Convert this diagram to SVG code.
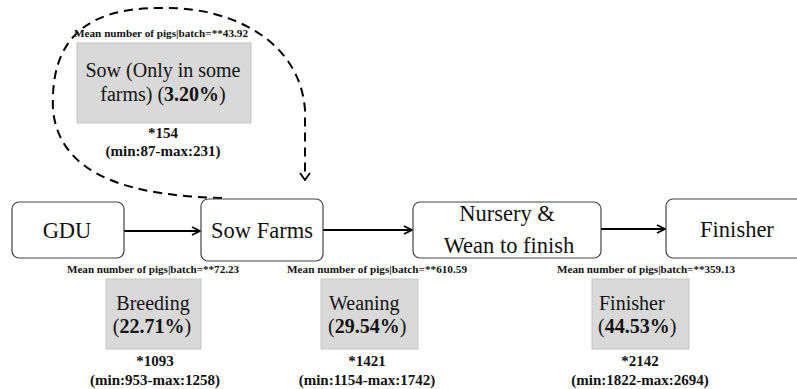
<svg xmlns="http://www.w3.org/2000/svg" width="797" height="389" viewBox="0 0 797 389" font-family="'Liberation Serif', 'Times New Roman', 'DejaVu Serif', serif">
<defs>
<style>
text{font-family:'Liberation Serif','Times New Roman','DejaVu Serif',serif;fill:#111}
.big{font-size:22.5px;text-anchor:middle}
.gray{font-size:20px}
.mean{font-size:11px;font-weight:bold;text-anchor:middle}
.cnt{font-size:15px;font-weight:bold;text-anchor:middle}
.box{fill:#fff;stroke:#444;stroke-width:1.2}
.gbox{fill:#d9d9d9;stroke:#c6c6c6;stroke-width:1}
.conn{fill:none;stroke:#000;stroke-width:2}
.dash{fill:none;stroke:#000;stroke-width:2;stroke-dasharray:9 6}
</style>
<marker id="arr" viewBox="0 0 10 10" refX="9" refY="5" markerWidth="10" markerHeight="10" markerUnits="userSpaceOnUse" orient="auto">
<path d="M1,1 L9,5 L1,9" fill="none" stroke="#000" stroke-width="1.8"/>
</marker>
</defs>
<rect width="797" height="389" fill="#fff"/>

<g id="connectors">
<line class="conn" x1="124" y1="231" x2="200" y2="231" marker-end="url(#arr)"/>
<line class="conn" x1="323" y1="230" x2="412" y2="230" marker-end="url(#arr)"/>
<line class="conn" x1="601" y1="229" x2="665" y2="229" marker-end="url(#arr)"/>
<path class="dash" d="M222,198 C140,196 60,180 53,110 C50,40 85,8 160,8 C230,6 300,40 305,110 L305,172"/>
<path d="M300,173 L305,180 L310,173" fill="none" stroke="#000" stroke-width="1.8"/>
</g>

<g id="sow">
<text class="mean" x="161" y="37" textLength="174" lengthAdjust="spacingAndGlyphs">Mean number of pigs|batch=**43.92</text>
<rect class="gbox" x="77" y="43" width="174" height="80"/>
<text class="gray" x="163" y="77" text-anchor="middle">Sow (Only in some</text>
<text class="gray" x="163" y="101" text-anchor="middle">farms) (<tspan font-weight="bold">3.20%</tspan>)</text>
<text class="cnt" x="163" y="138">*154</text>
<text class="cnt" x="163" y="156">(min:87-max:231)</text>
</g>

<g id="gdu">
<rect class="box" x="12" y="202" width="112" height="56" rx="7"/>
<text class="big" x="67" y="238">GDU</text>
</g>

<g id="sowfarms">
<rect class="box" x="201" y="199" width="122" height="62" rx="7"/>
<text class="big" x="262" y="238">Sow Farms</text>
</g>

<g id="nursery">
<rect class="box" x="413" y="202" width="188" height="56" rx="7"/>
<text class="big" x="507" y="221">Nursery &amp;</text>
<text class="big" x="509" y="253">Wean to finish</text>
</g>

<g id="finisher">
<rect class="box" x="666" y="199" width="140" height="59" rx="7"/>
<text class="big" x="737" y="237">Finisher</text>
</g>

<g id="breeding">
<text class="mean" x="153" y="273" textLength="172" lengthAdjust="spacingAndGlyphs">Mean number of pigs|batch=**72.23</text>
<rect class="gbox" x="106" y="279" width="95" height="70"/>
<text class="gray" x="153" y="310" text-anchor="middle">Breeding</text>
<text class="gray" x="152" y="333" text-anchor="middle">(<tspan font-weight="bold">22.71%</tspan>)</text>
<text class="cnt" x="155" y="366">*1093</text>
<text class="cnt" x="155" y="385">(min:953-max:1258)</text>
</g>

<g id="weaning">
<text class="mean" x="377" y="273" textLength="180" lengthAdjust="spacingAndGlyphs">Mean number of pigs|batch=**610.59</text>
<rect class="gbox" x="321" y="279" width="97" height="70"/>
<text class="gray" x="329" y="310">Weaning</text>
<text class="gray" x="328" y="333">(<tspan font-weight="bold">29.54%</tspan>)</text>
<text class="cnt" x="367" y="366">*1421</text>
<text class="cnt" x="367" y="385">(min:1154-max:1742)</text>
</g>

<g id="finisher-stage">
<text class="mean" x="646" y="273" textLength="178" lengthAdjust="spacingAndGlyphs">Mean number of pigs|batch=**359.13</text>
<rect class="gbox" x="592" y="279" width="97" height="70"/>
<text class="gray" x="599" y="310">Finisher</text>
<text class="gray" x="598" y="333">(<tspan font-weight="bold">44.53%</tspan>)</text>
<text class="cnt" x="640" y="366">*2142</text>
<text class="cnt" x="640" y="385">(min:1822-max:2694)</text>
</g>
</svg>
